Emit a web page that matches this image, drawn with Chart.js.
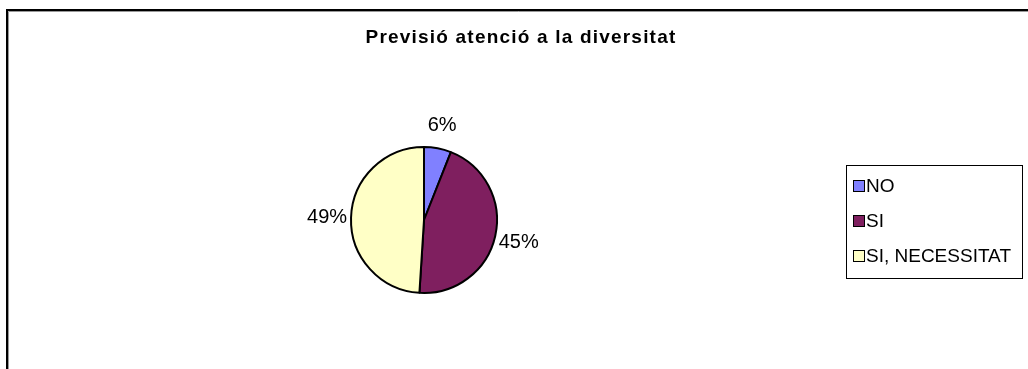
<!DOCTYPE html>
<html>
<head>
<meta charset="utf-8">
<style>
html,body{margin:0;padding:0;background:#fff;overflow:hidden;}
#wrap{width:1028px;height:369px;position:relative;}
canvas{display:block;}
</style>
<script src="https://cdn.jsdelivr.net/npm/chart.js@4/dist/chart.umd.min.js"></script>
</head>
<body>
<div id="wrap"><canvas id="c" width="1028" height="369"></canvas></div>
<script>
const titleText = "Previsió atenció a la diversitat";
const categories = ["NO", "SI", "SI, NECESSITAT"];
const values = [6, 45, 49];
const colors = ["#8080FF", "#7F1F5F", "#FFFFC6"];

const FONT = "'Liberation Sans', Arial, sans-serif";

const decor = {
  id: 'decor',
  beforeDraw(chart) {
    const ctx = chart.ctx;
    ctx.save();
    ctx.fillStyle = '#fff';
    ctx.fillRect(0, 0, chart.width, chart.height);
    // outer frame (top and left visible)
    ctx.strokeStyle = '#999';
    ctx.lineWidth = 1;
    ctx.beginPath();
    ctx.moveTo(8.5, 400); ctx.lineTo(8.5, 11.5); ctx.lineTo(1100, 11.5);
    ctx.stroke();
    ctx.strokeStyle = '#000';
    ctx.lineWidth = 2;
    ctx.beginPath();
    ctx.moveTo(7, 400); ctx.lineTo(7, 10); ctx.lineTo(1100, 10);
    ctx.stroke();
    // title
    ctx.fillStyle = '#000';
    ctx.font = "bold 19px " + FONT;
    if ('letterSpacing' in ctx) ctx.letterSpacing = '1.2px';
    ctx.textAlign = 'center';
    ctx.textBaseline = 'middle';
    ctx.fillText(titleText, 521, 38);
    if ('letterSpacing' in ctx) ctx.letterSpacing = '0px';
    ctx.restore();
  },
  afterDraw(chart) {
    const ctx = chart.ctx;
    const meta = chart.getDatasetMeta(0);
    const total = values.reduce((a, b) => a + b, 0);
    ctx.save();
    ctx.fillStyle = '#000';
    ctx.font = "20px " + FONT;
    ctx.textAlign = 'center';
    ctx.textBaseline = 'middle';
    meta.data.forEach((arc, i) => {
      const p = arc.getProps(['x', 'y', 'startAngle', 'endAngle', 'outerRadius'], true);
      const mid = (p.startAngle + p.endAngle) / 2;
      const d = p.outerRadius + 24;
      const pct = Math.round(values[i] / total * 100) + '%';
      ctx.fillText(pct, p.x + Math.cos(mid) * d, p.y + Math.sin(mid) * d + 1);
    });
    // legend
    const lx = 846.5, ly = 165.5, lw = 176, lh = 113;
    ctx.strokeStyle = '#000';
    ctx.lineWidth = 1;
    ctx.strokeRect(lx, ly, lw, lh);
    ctx.textAlign = 'left';
    ctx.font = "19px " + FONT;
    categories.forEach((c, i) => {
      const cy = 186 + i * 35;
      ctx.fillStyle = colors[i];
      ctx.fillRect(853, cy - 5, 11, 11);
      ctx.strokeStyle = '#000';
      ctx.strokeRect(853.5, cy - 5.5, 11, 11);
      ctx.fillStyle = '#000';
      ctx.fillText(c, 866, cy + 1);
    });
    ctx.restore();
  }
};

new Chart(document.getElementById('c'), {
  type: 'pie',
  data: {
    labels: categories,
    datasets: [{
      data: values,
      backgroundColor: colors,
      borderColor: '#000',
      borderWidth: 2
    }]
  },
  options: {
    responsive: false,
    animation: false,
    layout: { padding: { left: 350, right: 530, top: 146, bottom: 75 } },
    plugins: {
      legend: { display: false },
      title: { display: false },
      tooltip: { enabled: false }
    }
  },
  plugins: [decor]
});
</script>
</body>
</html>
